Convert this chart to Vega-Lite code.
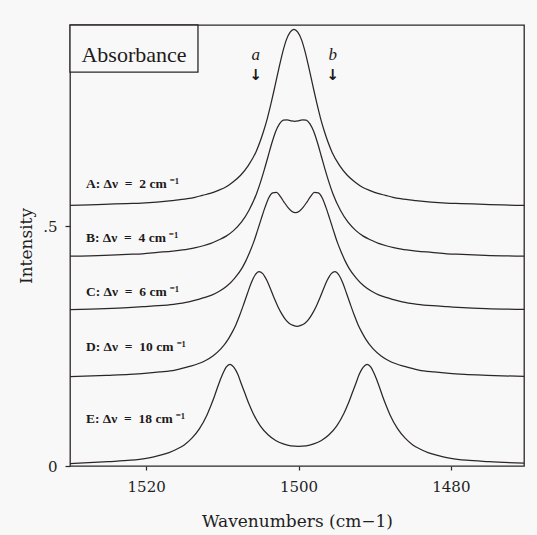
{
  "$schema": "https://vega.github.io/schema/vega-lite/v6.json",
  "width": 454,
  "height": 441,
  "autosize": {"type": "none"},
  "padding": {"left": 70, "top": 25, "right": 13, "bottom": 69},
  "background": "#f8f8f8",
  "config": {
    "view": {"stroke": "#2d2628", "strokeWidth": 1.3, "fill": "#f8f8f8"},
    "axis": {
      "domain": false,
      "grid": false,
      "tickColor": "#2d2628",
      "tickWidth": 1.2,
      "labelFont": "DejaVu Serif",
      "labelFontSize": 15,
      "labelColor": "#231e1f",
      "titleFont": "DejaVu Serif",
      "titleFontSize": 17,
      "titleFontWeight": "normal",
      "titleColor": "#231e1f"
    },
    "text": {"color": "#1e1a1b"}
  },
  "layer": [
    {
      "data": {
        "values": [
          {"s": "A", "x": 1530.6, "y": 0.543}, {"s": "A", "x": 1525.6, "y": 0.545}, {"s": "A", "x": 1522.6, "y": 0.547},
          {"s": "A", "x": 1520.6, "y": 0.548}, {"s": "A", "x": 1518.6, "y": 0.550}, {"s": "A", "x": 1516.6, "y": 0.553},
          {"s": "A", "x": 1514.6, "y": 0.557}, {"s": "A", "x": 1513.6, "y": 0.560}, {"s": "A", "x": 1512.6, "y": 0.564},
          {"s": "A", "x": 1511.6, "y": 0.568}, {"s": "A", "x": 1510.6, "y": 0.574}, {"s": "A", "x": 1509.6, "y": 0.581},
          {"s": "A", "x": 1508.6, "y": 0.592}, {"s": "A", "x": 1507.6, "y": 0.606}, {"s": "A", "x": 1506.6, "y": 0.626},
          {"s": "A", "x": 1505.6, "y": 0.654}, {"s": "A", "x": 1504.6, "y": 0.697}, {"s": "A", "x": 1504.1, "y": 0.724},
          {"s": "A", "x": 1503.6, "y": 0.756}, {"s": "A", "x": 1503.1, "y": 0.791}, {"s": "A", "x": 1502.6, "y": 0.827},
          {"s": "A", "x": 1502.1, "y": 0.861}, {"s": "A", "x": 1501.6, "y": 0.888}, {"s": "A", "x": 1501.1, "y": 0.904},
          {"s": "A", "x": 1500.6, "y": 0.910},
          {"s": "A", "x": 1500.1, "y": 0.904}, {"s": "A", "x": 1499.6, "y": 0.888}, {"s": "A", "x": 1499.1, "y": 0.861},
          {"s": "A", "x": 1498.6, "y": 0.827}, {"s": "A", "x": 1498.1, "y": 0.791}, {"s": "A", "x": 1497.6, "y": 0.756},
          {"s": "A", "x": 1497.1, "y": 0.724}, {"s": "A", "x": 1496.6, "y": 0.697}, {"s": "A", "x": 1495.6, "y": 0.654},
          {"s": "A", "x": 1494.6, "y": 0.626}, {"s": "A", "x": 1493.6, "y": 0.606}, {"s": "A", "x": 1492.6, "y": 0.592},
          {"s": "A", "x": 1491.6, "y": 0.581}, {"s": "A", "x": 1490.6, "y": 0.574}, {"s": "A", "x": 1489.6, "y": 0.568},
          {"s": "A", "x": 1488.6, "y": 0.564}, {"s": "A", "x": 1487.6, "y": 0.560}, {"s": "A", "x": 1486.6, "y": 0.557},
          {"s": "A", "x": 1484.6, "y": 0.553}, {"s": "A", "x": 1482.6, "y": 0.550}, {"s": "A", "x": 1480.6, "y": 0.548},
          {"s": "A", "x": 1478.6, "y": 0.547}, {"s": "A", "x": 1475.6, "y": 0.545}, {"s": "A", "x": 1469.6, "y": 0.543},

          {"s": "B", "x": 1530.5, "y": 0.437}, {"s": "B", "x": 1525.5, "y": 0.439}, {"s": "B", "x": 1522.5, "y": 0.441},
          {"s": "B", "x": 1520.5, "y": 0.442}, {"s": "B", "x": 1518.5, "y": 0.445}, {"s": "B", "x": 1516.5, "y": 0.448},
          {"s": "B", "x": 1514.5, "y": 0.452}, {"s": "B", "x": 1513.5, "y": 0.455}, {"s": "B", "x": 1512.5, "y": 0.459},
          {"s": "B", "x": 1511.5, "y": 0.464}, {"s": "B", "x": 1510.5, "y": 0.471}, {"s": "B", "x": 1509.5, "y": 0.479},
          {"s": "B", "x": 1508.5, "y": 0.491}, {"s": "B", "x": 1507.5, "y": 0.508}, {"s": "B", "x": 1506.5, "y": 0.533},
          {"s": "B", "x": 1505.5, "y": 0.568}, {"s": "B", "x": 1505.0, "y": 0.591}, {"s": "B", "x": 1504.5, "y": 0.617},
          {"s": "B", "x": 1504.0, "y": 0.645}, {"s": "B", "x": 1503.5, "y": 0.673}, {"s": "B", "x": 1503.0, "y": 0.697},
          {"s": "B", "x": 1502.5, "y": 0.713}, {"s": "B", "x": 1502.0, "y": 0.7207}, {"s": "B", "x": 1501.5, "y": 0.7214},
          {"s": "B", "x": 1501.0, "y": 0.7194}, {"s": "B", "x": 1500.5, "y": 0.7182},
          {"s": "B", "x": 1500.0, "y": 0.7194}, {"s": "B", "x": 1499.5, "y": 0.7214}, {"s": "B", "x": 1499.0, "y": 0.7207},
          {"s": "B", "x": 1498.5, "y": 0.713}, {"s": "B", "x": 1498.0, "y": 0.697}, {"s": "B", "x": 1497.5, "y": 0.673},
          {"s": "B", "x": 1497.0, "y": 0.645}, {"s": "B", "x": 1496.5, "y": 0.617}, {"s": "B", "x": 1496.0, "y": 0.591},
          {"s": "B", "x": 1495.5, "y": 0.568}, {"s": "B", "x": 1494.5, "y": 0.533}, {"s": "B", "x": 1493.5, "y": 0.508},
          {"s": "B", "x": 1492.5, "y": 0.491}, {"s": "B", "x": 1491.5, "y": 0.479}, {"s": "B", "x": 1490.5, "y": 0.471},
          {"s": "B", "x": 1489.5, "y": 0.464}, {"s": "B", "x": 1488.5, "y": 0.459}, {"s": "B", "x": 1487.5, "y": 0.455},
          {"s": "B", "x": 1486.5, "y": 0.452}, {"s": "B", "x": 1484.5, "y": 0.448}, {"s": "B", "x": 1482.5, "y": 0.445},
          {"s": "B", "x": 1480.5, "y": 0.442}, {"s": "B", "x": 1478.5, "y": 0.441}, {"s": "B", "x": 1475.5, "y": 0.439},
          {"s": "B", "x": 1469.5, "y": 0.437},

          {"s": "C", "x": 1530.4, "y": 0.326}, {"s": "C", "x": 1525.4, "y": 0.328}, {"s": "C", "x": 1522.4, "y": 0.330},
          {"s": "C", "x": 1520.4, "y": 0.332}, {"s": "C", "x": 1518.4, "y": 0.334}, {"s": "C", "x": 1516.4, "y": 0.337},
          {"s": "C", "x": 1514.4, "y": 0.342}, {"s": "C", "x": 1513.4, "y": 0.346}, {"s": "C", "x": 1512.4, "y": 0.351},
          {"s": "C", "x": 1511.4, "y": 0.356}, {"s": "C", "x": 1510.4, "y": 0.364}, {"s": "C", "x": 1509.4, "y": 0.375},
          {"s": "C", "x": 1508.4, "y": 0.391}, {"s": "C", "x": 1507.4, "y": 0.413}, {"s": "C", "x": 1506.9, "y": 0.428},
          {"s": "C", "x": 1506.4, "y": 0.446}, {"s": "C", "x": 1505.9, "y": 0.466}, {"s": "C", "x": 1505.4, "y": 0.490},
          {"s": "C", "x": 1504.9, "y": 0.515}, {"s": "C", "x": 1504.4, "y": 0.539}, {"s": "C", "x": 1503.9, "y": 0.559},
          {"s": "C", "x": 1503.4, "y": 0.569}, {"s": "C", "x": 1502.9, "y": 0.570}, {"s": "C", "x": 1502.4, "y": 0.562},
          {"s": "C", "x": 1501.9, "y": 0.550}, {"s": "C", "x": 1501.4, "y": 0.539}, {"s": "C", "x": 1500.9, "y": 0.531},
          {"s": "C", "x": 1500.4, "y": 0.528},
          {"s": "C", "x": 1499.9, "y": 0.531}, {"s": "C", "x": 1499.4, "y": 0.539}, {"s": "C", "x": 1498.9, "y": 0.550},
          {"s": "C", "x": 1498.4, "y": 0.562}, {"s": "C", "x": 1497.9, "y": 0.570}, {"s": "C", "x": 1497.4, "y": 0.569},
          {"s": "C", "x": 1496.9, "y": 0.559}, {"s": "C", "x": 1496.4, "y": 0.539}, {"s": "C", "x": 1495.9, "y": 0.515},
          {"s": "C", "x": 1495.4, "y": 0.490}, {"s": "C", "x": 1494.9, "y": 0.466}, {"s": "C", "x": 1494.4, "y": 0.446},
          {"s": "C", "x": 1493.9, "y": 0.428}, {"s": "C", "x": 1493.4, "y": 0.413}, {"s": "C", "x": 1492.4, "y": 0.391},
          {"s": "C", "x": 1491.4, "y": 0.375}, {"s": "C", "x": 1490.4, "y": 0.364}, {"s": "C", "x": 1489.4, "y": 0.356},
          {"s": "C", "x": 1488.4, "y": 0.351}, {"s": "C", "x": 1487.4, "y": 0.346}, {"s": "C", "x": 1486.4, "y": 0.342},
          {"s": "C", "x": 1484.4, "y": 0.337}, {"s": "C", "x": 1482.4, "y": 0.334}, {"s": "C", "x": 1480.4, "y": 0.332},
          {"s": "C", "x": 1478.4, "y": 0.330}, {"s": "C", "x": 1475.4, "y": 0.328}, {"s": "C", "x": 1469.4, "y": 0.326},

          {"s": "D", "x": 1530.2, "y": 0.186}, {"s": "D", "x": 1525.2, "y": 0.189}, {"s": "D", "x": 1522.2, "y": 0.191},
          {"s": "D", "x": 1520.2, "y": 0.193}, {"s": "D", "x": 1518.2, "y": 0.196}, {"s": "D", "x": 1516.2, "y": 0.200},
          {"s": "D", "x": 1514.2, "y": 0.208}, {"s": "D", "x": 1513.2, "y": 0.213}, {"s": "D", "x": 1512.2, "y": 0.220},
          {"s": "D", "x": 1511.2, "y": 0.230}, {"s": "D", "x": 1510.2, "y": 0.244}, {"s": "D", "x": 1509.2, "y": 0.265},
          {"s": "D", "x": 1508.7, "y": 0.279}, {"s": "D", "x": 1508.2, "y": 0.295}, {"s": "D", "x": 1507.7, "y": 0.315},
          {"s": "D", "x": 1507.2, "y": 0.337}, {"s": "D", "x": 1506.7, "y": 0.360}, {"s": "D", "x": 1506.2, "y": 0.382},
          {"s": "D", "x": 1505.7, "y": 0.398}, {"s": "D", "x": 1505.2, "y": 0.405}, {"s": "D", "x": 1504.7, "y": 0.401},
          {"s": "D", "x": 1504.2, "y": 0.388}, {"s": "D", "x": 1503.7, "y": 0.370}, {"s": "D", "x": 1503.2, "y": 0.350},
          {"s": "D", "x": 1502.7, "y": 0.332}, {"s": "D", "x": 1502.2, "y": 0.317}, {"s": "D", "x": 1501.7, "y": 0.305},
          {"s": "D", "x": 1501.2, "y": 0.297}, {"s": "D", "x": 1500.7, "y": 0.293}, {"s": "D", "x": 1500.2, "y": 0.291},
          {"s": "D", "x": 1499.7, "y": 0.293}, {"s": "D", "x": 1499.2, "y": 0.297}, {"s": "D", "x": 1498.7, "y": 0.305},
          {"s": "D", "x": 1498.2, "y": 0.317}, {"s": "D", "x": 1497.7, "y": 0.332}, {"s": "D", "x": 1497.2, "y": 0.350},
          {"s": "D", "x": 1496.7, "y": 0.370}, {"s": "D", "x": 1496.2, "y": 0.388}, {"s": "D", "x": 1495.7, "y": 0.401},
          {"s": "D", "x": 1495.2, "y": 0.405}, {"s": "D", "x": 1494.7, "y": 0.398}, {"s": "D", "x": 1494.2, "y": 0.382},
          {"s": "D", "x": 1493.7, "y": 0.360}, {"s": "D", "x": 1493.2, "y": 0.337}, {"s": "D", "x": 1492.7, "y": 0.315},
          {"s": "D", "x": 1492.2, "y": 0.295}, {"s": "D", "x": 1491.7, "y": 0.279}, {"s": "D", "x": 1491.2, "y": 0.265},
          {"s": "D", "x": 1490.2, "y": 0.244}, {"s": "D", "x": 1489.2, "y": 0.230}, {"s": "D", "x": 1488.2, "y": 0.220},
          {"s": "D", "x": 1487.2, "y": 0.213}, {"s": "D", "x": 1486.2, "y": 0.208}, {"s": "D", "x": 1484.2, "y": 0.200},
          {"s": "D", "x": 1482.2, "y": 0.196}, {"s": "D", "x": 1480.2, "y": 0.193}, {"s": "D", "x": 1478.2, "y": 0.191},
          {"s": "D", "x": 1475.2, "y": 0.189}, {"s": "D", "x": 1469.2, "y": 0.186},

          {"s": "E", "x": 1530, "y": 0.005}, {"s": "E", "x": 1525, "y": 0.009}, {"s": "E", "x": 1522, "y": 0.012},
          {"s": "E", "x": 1520, "y": 0.016}, {"s": "E", "x": 1519, "y": 0.019}, {"s": "E", "x": 1518, "y": 0.023},
          {"s": "E", "x": 1517, "y": 0.028}, {"s": "E", "x": 1516, "y": 0.035}, {"s": "E", "x": 1515, "y": 0.044},
          {"s": "E", "x": 1514, "y": 0.058}, {"s": "E", "x": 1513, "y": 0.078}, {"s": "E", "x": 1512, "y": 0.107},
          {"s": "E", "x": 1511.5, "y": 0.126}, {"s": "E", "x": 1511, "y": 0.147}, {"s": "E", "x": 1510.5, "y": 0.170},
          {"s": "E", "x": 1510, "y": 0.190}, {"s": "E", "x": 1509.5, "y": 0.206}, {"s": "E", "x": 1509, "y": 0.212},
          {"s": "E", "x": 1508.5, "y": 0.206}, {"s": "E", "x": 1508, "y": 0.192}, {"s": "E", "x": 1507.5, "y": 0.171},
          {"s": "E", "x": 1507, "y": 0.150}, {"s": "E", "x": 1506.5, "y": 0.129}, {"s": "E", "x": 1506, "y": 0.111},
          {"s": "E", "x": 1505, "y": 0.083}, {"s": "E", "x": 1504, "y": 0.065}, {"s": "E", "x": 1503, "y": 0.053},
          {"s": "E", "x": 1502, "y": 0.046}, {"s": "E", "x": 1501, "y": 0.042}, {"s": "E", "x": 1500, "y": 0.041},
          {"s": "E", "x": 1499, "y": 0.042}, {"s": "E", "x": 1498, "y": 0.046}, {"s": "E", "x": 1497, "y": 0.053},
          {"s": "E", "x": 1496, "y": 0.065}, {"s": "E", "x": 1495, "y": 0.083}, {"s": "E", "x": 1494, "y": 0.111},
          {"s": "E", "x": 1493.5, "y": 0.129}, {"s": "E", "x": 1493, "y": 0.150}, {"s": "E", "x": 1492.5, "y": 0.171},
          {"s": "E", "x": 1492, "y": 0.192}, {"s": "E", "x": 1491.5, "y": 0.206}, {"s": "E", "x": 1491, "y": 0.212},
          {"s": "E", "x": 1490.5, "y": 0.206}, {"s": "E", "x": 1490, "y": 0.190}, {"s": "E", "x": 1489.5, "y": 0.170},
          {"s": "E", "x": 1489, "y": 0.147}, {"s": "E", "x": 1488.5, "y": 0.126}, {"s": "E", "x": 1488, "y": 0.107},
          {"s": "E", "x": 1487, "y": 0.078}, {"s": "E", "x": 1486, "y": 0.058}, {"s": "E", "x": 1485, "y": 0.044},
          {"s": "E", "x": 1484, "y": 0.035}, {"s": "E", "x": 1483, "y": 0.028}, {"s": "E", "x": 1482, "y": 0.023},
          {"s": "E", "x": 1481, "y": 0.019}, {"s": "E", "x": 1480, "y": 0.016}, {"s": "E", "x": 1478, "y": 0.012},
          {"s": "E", "x": 1475, "y": 0.009}, {"s": "E", "x": 1469, "y": 0.005}
        ]
      },
      "mark": {"type": "line", "interpolate": "monotone", "clip": true, "color": "#2d2628", "strokeWidth": 1.25},
      "encoding": {
        "x": {
          "field": "x",
          "type": "quantitative",
          "scale": {"domain": [1470.4, 1530], "reverse": true, "nice": false, "zero": false},
          "axis": {"values": [1520, 1500, 1480], "format": "d", "tickSize": 4, "labelPadding": 9, "titlePadding": 19, "title": "Wavenumbers (cm−1)"}
        },
        "y": {
          "field": "y",
          "type": "quantitative",
          "scale": {"domain": [0, 0.919], "nice": false, "zero": false},
          "axis": {"values": [0, 0.5], "labelExpr": "datum.value === 0 ? '0' : '.5'", "tickSize": 5, "labelPadding": 8, "titlePadding": 7, "title": "Intensity"}
        },
        "detail": {"field": "s"}
      }
    },
    {
      "data": {"values": [{}]},
      "mark": {"type": "rect", "fill": "#f8f8f8", "stroke": "#2d2628", "strokeWidth": 1.3},
      "encoding": {
        "x": {"datum": 1530},
        "x2": {"datum": 1513.2},
        "y": {"datum": 0.919},
        "y2": {"datum": 0.821}
      }
    },
    {
      "data": {"values": [{}]},
      "mark": {"type": "text", "text": "Absorbance", "font": "Liberation Serif", "fontSize": 22, "align": "center", "baseline": "alphabetic"},
      "encoding": {"x": {"datum": 1521.6}, "y": {"datum": 0.842}}
    },
    {
      "data": {
        "values": [
          {"label": "A:\u00a0Δν\u00a0\u00a0=\u00a0\u00a02\u00a0cm\u00a0⁻¹", "w": 1527.9, "i": 0.579},
          {"label": "B:\u00a0Δν\u00a0\u00a0=\u00a0\u00a04\u00a0cm\u00a0⁻¹", "w": 1527.9, "i": 0.466},
          {"label": "C:\u00a0Δν\u00a0\u00a0=\u00a0\u00a06\u00a0cm\u00a0⁻¹", "w": 1527.9, "i": 0.355},
          {"label": "D:\u00a0Δν\u00a0\u00a0=\u00a0\u00a010\u00a0cm\u00a0⁻¹", "w": 1527.9, "i": 0.239},
          {"label": "E:\u00a0Δν\u00a0\u00a0=\u00a0\u00a018\u00a0cm\u00a0⁻¹", "w": 1527.9, "i": 0.089}
        ]
      },
      "mark": {"type": "text", "font": "Liberation Serif", "fontSize": 13.5, "fontWeight": "bold", "align": "left", "baseline": "alphabetic"},
      "encoding": {
        "x": {"field": "w", "type": "quantitative"},
        "y": {"field": "i", "type": "quantitative"},
        "text": {"field": "label"}
      }
    },
    {
      "data": {
        "values": [
          {"mark": "a", "w": 1505.6},
          {"mark": "b", "w": 1495.5}
        ]
      },
      "layer": [
        {
          "mark": {"type": "text", "font": "Liberation Serif", "fontSize": 17, "fontStyle": "italic", "align": "center", "baseline": "alphabetic"},
          "encoding": {"x": {"field": "w", "type": "quantitative"}, "y": {"datum": 0.847}, "text": {"field": "mark"}}
        },
        {
          "mark": {"type": "text", "text": "↓", "font": "DejaVu Sans", "fontSize": 15, "fontWeight": "bold", "align": "center", "baseline": "middle"},
          "encoding": {"x": {"field": "w", "type": "quantitative"}, "y": {"datum": 0.814}}
        }
      ]
    }
  ]
}
